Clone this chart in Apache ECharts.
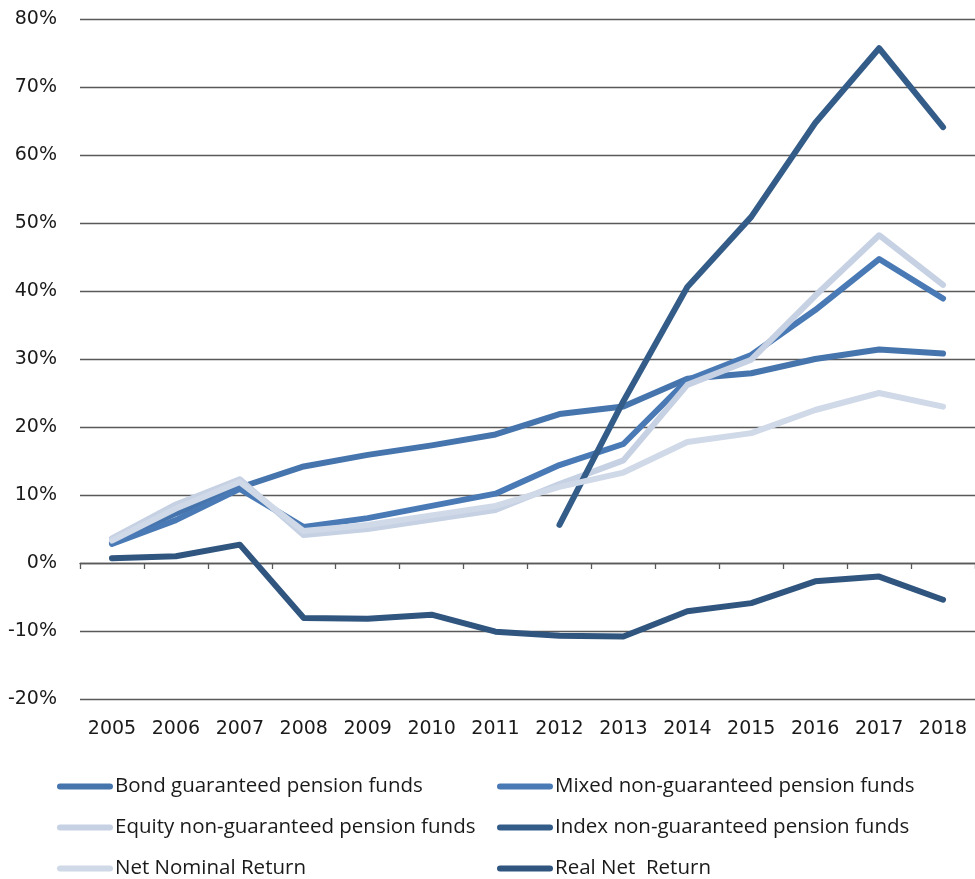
<!DOCTYPE html>
<html>
<head>
<meta charset="utf-8">
<script src="https://cdn.jsdelivr.net/npm/echarts@6/dist/echarts.min.js"></script>
<style>
html,body{margin:0;padding:0;background:#fff;}
#chart{width:975px;height:879px;}
</style>
</head>
<body>
<div id="chart"></div>
<script>
const years = ['2005','2006','2007','2008','2009','2010','2011','2012','2013','2014','2015','2016','2017','2018'];
const yTicks = [-20, -10, 0, 10, 20, 30, 40, 50, 60, 70, 80];

const bondGuaranteed = [3.0, 7.3, 11.1, 14.2, 15.9, 17.3, 18.9, 21.9, 23.0, 27.1, 27.9, 30.0, 31.4, 30.8];
const mixedNonGuaranteed = [2.8, 6.3, 10.9, 5.3, 6.6, 8.4, 10.2, 14.4, 17.5, 26.9, 30.6, 37.2, 44.7, 38.9];
const equityNonGuaranteed = [3.6, 8.6, 12.3, 4.1, 5.0, 6.4, 7.8, 11.6, 15.1, 26.2, 29.9, 39.3, 48.2, 40.9];
const indexNonGuaranteed = [null, null, null, null, null, null, null, 5.6, 23.8, 40.6, 50.9, 64.7, 75.7, 64.1];
const netNominalReturn = [3.3, 8.0, 11.9, 4.7, 5.6, 7.0, 8.4, 11.2, 13.3, 17.8, 19.1, 22.5, 25.0, 23.0];
const realNetReturn = [0.7, 1.0, 2.7, -8.1, -8.2, -7.6, -10.1, -10.7, -10.8, -7.1, -5.9, -2.7, -2.0, -5.4];

const seriesNames = [
  'Bond guaranteed pension funds',
  'Mixed non-guaranteed pension funds',
  'Equity non-guaranteed pension funds',
  'Index non-guaranteed pension funds',
  'Net Nominal Return',
  'Real Net  Return'
];
const seriesData = [bondGuaranteed, mixedNonGuaranteed, equityNonGuaranteed, indexNonGuaranteed, netNominalReturn, realNetReturn];
const colors = ['#4674ac', '#4a7ab5', '#c6d1e3', '#345c89', '#d0d9e8', '#30557f'];

const AXIS_FONT = 'DejaVu Sans';
const LEGEND_FONT = 'Open Sans';
const chart = echarts.init(document.getElementById('chart'), null, {renderer: 'canvas'});

const series = seriesNames.map((name, i) => ({
  name: name,
  type: 'line',
  data: seriesData[i],
  xAxisIndex: 0,
  yAxisIndex: 0,
  showSymbol: false,
  symbol: 'none',
  smooth: false,
  connectNulls: false,
  color: colors[i],
  lineStyle: {width: 6, color: colors[i], cap: 'round', join: 'round'},
  emphasis: {disabled: true},
  z: 2 + i
}));

const pill = 'path://M3,0 L53,0 A3,3 0 0 1 53,6 L3,6 A3,3 0 0 1 3,0 Z';
const legendCommon = {
  orient: 'vertical',
  top: 771,
  height: 140,
  itemWidth: 56,
  itemHeight: 7,
  itemGap: 20,
  icon: pill,
  textStyle: {fontFamily: LEGEND_FONT, fontSize: 20.5, color: '#1a1a1a', padding: [0,0,0,-3]},
  selectedMode: false
};

chart.setOption({
  animation: false,
  backgroundColor: '#fff',
  grid: {left: 80, right: 0, top: 19, bottom: 180, containLabel: false},
  xAxis: [
    {
      type: 'category',
      data: years,
      position: 'bottom',
      boundaryGap: true,
      axisLine: {show: false, onZero: false},
      axisTick: {show: false},
      axisLabel: {fontFamily: AXIS_FONT, fontSize: 19, color: '#1a1a1a', margin: 21},
      splitLine: {show: false}
    },
    {
      type: 'category',
      data: years,
      position: 'bottom',
      boundaryGap: true,
      axisLine: {show: true, onZero: true, lineStyle: {color: '#595959', width: 1.3}},
      axisTick: {show: true, inside: false, length: 6, lineStyle: {color: '#595959', width: 1.3}},
      axisLabel: {show: false},
      splitLine: {show: false}
    }
  ],
  yAxis: {
    type: 'value',
    min: yTicks[0],
    max: yTicks[yTicks.length - 1],
    interval: 10,
    axisLine: {show: false},
    axisTick: {show: false},
    axisLabel: {fontFamily: AXIS_FONT, fontSize: 19, color: '#1a1a1a', margin: 23, formatter: v => v + '%'},
    splitLine: {show: true, lineStyle: {color: '#595959', width: 1.3}}
  },
  legend: [
    Object.assign({}, legendCommon, {left: 52, data: [seriesNames[0], seriesNames[2], seriesNames[4]]}),
    Object.assign({}, legendCommon, {left: 492, data: [seriesNames[1], seriesNames[3], seriesNames[5]]})
  ],
  series: series
});
</script>
</body>
</html>
